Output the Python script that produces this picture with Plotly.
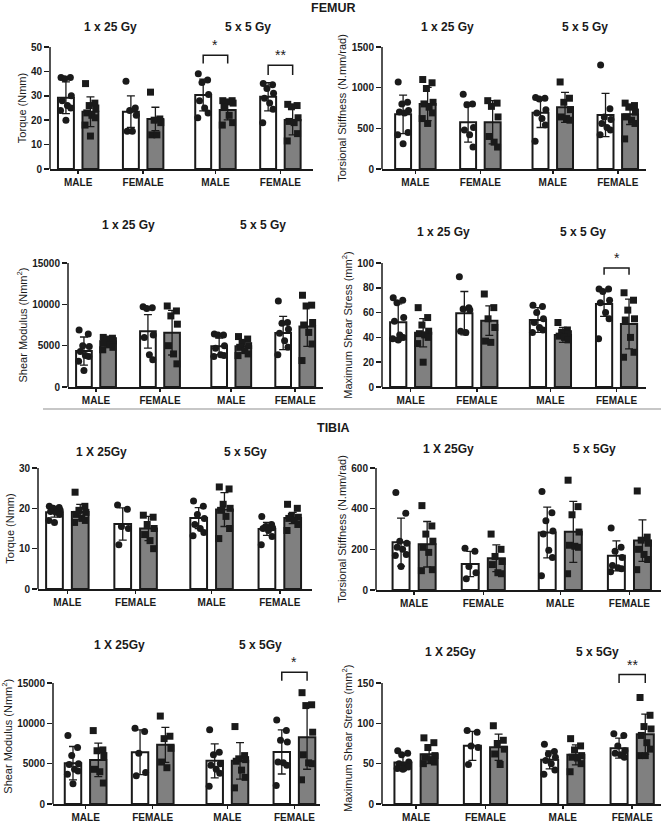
import plotly.graph_objects as go

W, H = 666, 821

GROUPS = ["MALE", "FEMALE", "MALE", "FEMALE"]
DOSES_FEMUR = ["1 x 25 Gy", "5 x 5 Gy"]
DOSES_TIBIA = ["1 X 25Gy", "5 x 5Gy"]
SECTIONS = ["FEMUR", "TIBIA"]

Y_TITLES = ["Torque (Nmm)", "Torsional Stiffness (N.mm/rad)",
            "Shear Modulus (Nmm<sup>2</sup>)", "Maximum Shear Stress (mm<sup>2</sup>)"]

# ---------------- FEMUR ----------------
A_MEAN = [29.2, 23.5, 23.5, 20.5, 30.3, 24.2, 29.6, 20.1]
A_SD = [6.5, 6.1, 6.5, 4.8, 6.5, 4.1, 5.8, 6.1]
A_PTS = [[37.5, 37.5, 37, 30, 28, 26, 25, 24, 20],
         [35, 27, 26, 25, 23, 22, 21, 18, 13.5],
         [36, 25, 24, 22, 15.5, 15.5],
         [31.5, 20.5, 20, 19, 14, 14],
         [39, 36.5, 35.5, 30.5, 28, 25, 23, 21],
         [28, 28, 27.5, 27, 25.5, 22, 19, 18],
         [35, 34.5, 33, 31, 29, 27, 24.5, 19],
         [26.5, 26, 25.5, 21, 19.5, 19, 14.5, 11.5]]

B_MEAN = [672, 799, 575, 575, 693, 758, 664, 672]
B_SD = [237, 204, 244, 265, 183, 184, 265, 125]
B_PTS = [[1070, 820, 800, 720, 700, 690, 450, 420, 310],
         [1100, 1060, 990, 820, 800, 760, 690, 620, 560],
         [920, 800, 790, 510, 480, 420, 270],
         [840, 810, 770, 640, 400, 330, 270],
         [880, 870, 860, 730, 690, 620, 540, 340],
         [1070, 870, 820, 730, 640, 620, 600],
         [1280, 740, 640, 610, 560, 510, 480, 420],
         [810, 780, 760, 700, 640, 600, 560, 370]]

C_MEAN = [4350, 5520, 6730, 6570, 4920, 4920, 6530, 7330]
C_SD = [1700, 530, 2020, 2700, 1000, 800, 2010, 2420]
C_PTS = [[6900, 6400, 5000, 4900, 4300, 3800, 3700, 3100, 2000],
         [6000, 5900, 5800, 5600, 5300, 5100, 4800, 4500],
         [9700, 9600, 9500, 6300, 6000, 3900, 3300],
         [9800, 9200, 8600, 7600, 5000, 4000, 2800],
         [6400, 6300, 6300, 5000, 4700, 3900, 3800, 3700],
         [6100, 5800, 5400, 5000, 4800, 4400, 4000, 3800],
         [10400, 7800, 7700, 7000, 6500, 5600, 4800, 3900],
         [11100, 9900, 9800, 7800, 7500, 6600, 5200, 3200]]

D_MEAN = [52.2, 43.8, 59.5, 53.5, 54, 42, 67, 50.8]
D_SD = [14.8, 11.4, 17.5, 11.9, 10, 6, 10, 20]
D_PTS = [[72, 70, 68, 56, 53, 42, 40, 39, 38],
         [64, 56, 50, 45, 43, 42, 40, 35, 20],
         [89, 64, 63, 62, 45, 44],
         [75, 64, 55, 48, 37, 36],
         [66, 65, 60, 55, 52, 48, 46, 44],
         [52, 46, 44, 43, 41, 40, 38],
         [79, 79, 77, 70, 68, 60, 55, 39],
         [76, 70, 62, 55, 54, 40, 28, 24]]

# ---------------- TIBIA ----------------
E_MEAN = [19, 19.1, 16.1, 15, 17.6, 19.7, 14.9, 17.6]
E_SD = [1.2, 1.9, 4, 3, 2.6, 4.2, 1.6, 1.4]
E_PTS = [[20.5, 20.2, 20, 19.5, 19.2, 19, 18.5, 17, 16.5],
         [24, 20.5, 19.5, 19, 18.5, 17.5, 17, 16.5],
         [20.8, 19.8, 15.5, 15, 11],
         [18.3, 17.8, 16, 15, 13.5, 12, 10],
         [21.8, 20.5, 18.5, 17.5, 16, 15, 14, 13.2],
         [25.3, 24.8, 21, 20, 19.5, 18, 15, 12.5],
         [18, 16, 15.5, 15.2, 15, 14.5, 13, 11],
         [21, 20, 18, 17.8, 17.5, 17, 16, 14.5]]

F_MEAN = [235, 225, 128, 156, 283, 286, 168, 243]
F_SD = [118, 112, 62, 66, 125, 150, 74, 102]
F_PTS = [[480, 378, 240, 230, 210, 200, 175, 170, 115],
         [415, 315, 275, 240, 210, 185, 100, 95],
         [205, 190, 115, 85, 55],
         [275, 200, 165, 140, 125, 85, 80],
         [485, 380, 340, 290, 275, 195, 160, 70],
         [540, 410, 370, 285, 220, 215, 210, 80],
         [305, 210, 190, 160, 120, 110, 105, 90],
         [487, 260, 245, 230, 200, 175, 150, 100]]

G_MEAN = [5060, 5470, 6420, 7330, 5350, 5350, 6460, 8290]
G_SD = [2070, 2070, 2780, 2160, 2110, 2270, 2740, 3980]
G_PTS = [[8500, 7000, 6000, 5000, 4900, 4300, 4100, 3700, 2500],
         [9100, 6700, 6600, 6000, 4300, 4000, 2600],
         [9400, 9000, 6300, 3900, 3500],
         [10900, 8400, 8100, 6900, 5200, 4500],
         [9200, 6400, 6100, 5000, 4800, 4300, 3800, 2200],
         [9600, 6000, 5600, 5500, 5300, 4200, 3300, 2000],
         [10400, 9100, 7900, 7700, 5200, 5100, 4800, 2300],
         [13800, 12300, 12200, 8900, 6100, 5100, 5000, 3000]]

H_MEAN = [51.4, 61.7, 72.1, 70.4, 54.7, 60.9, 69.2, 86.6]
H_SD = [10, 11.6, 17.9, 16.2, 11.2, 12.4, 12.4, 24.9]
H_PTS = [[66, 63, 61, 52, 50, 48, 46, 44, 43],
         [82, 76, 70, 60, 58, 55, 52, 50],
         [91, 89, 72, 70, 49],
         [97, 79, 75, 68, 62, 49],
         [74, 65, 62, 58, 54, 50, 42, 37],
         [81, 72, 67, 60, 58, 57, 50, 40],
         [87, 85, 72, 66, 63, 61, 58],
         [132, 110, 96, 93, 85, 76, 68, 60, 60]]

# significance: (bar_i, bar_j, label, bracket_y, tick_end_y)
A_SIG = [(4, 5, "*", 46.6, 43.2), (6, 7, "**", 42.5, 38.5)]
D_SIG = [(6, 7, "*", 96, 90.5)]
G_SIG = [(6, 7, "*", 16330, 15290)]
H_SIG = [(6, 7, "**", 160.4, 150)]

Y_TICKS = {
    "A": [0, 10, 20, 30, 40, 50], "B": [0, 500, 1000, 1500],
    "C": [0, 5000, 10000, 15000], "D": [0, 20, 40, 60, 80, 100],
    "E": [0, 10, 20, 30], "F": [0, 200, 400, 600],
    "G": [0, 5000, 10000, 15000], "H": [0, 50, 100, 150],
}

# ---------------- layout geometry (pixels) ----------------
BAR_X = [0, 1, 2.65, 3.65, 5.6, 6.6, 8.25, 9.25]
BAR_W = 0.65
JITTER = [-0.2, 0.18, -0.05, 0.22, -0.15, 0.06, 0.2, -0.22, 0.0]

PANELS = [
    # key, mean, sd, pts, sig, title, doses, left, right, y0px, ytoppx, xrange, ext, subtitle_y
    ("A", A_MEAN, A_SD, A_PTS, A_SIG, Y_TITLES[0], DOSES_FEMUR, 50, 313, 169, 47, [-0.65, 10.08], 50, 27),
    ("B", B_MEAN, B_SD, B_PTS, [], Y_TITLES[1], DOSES_FEMUR, 382, 646, 169, 47, [-0.86, 9.9], 1500, 27),
    ("C", C_MEAN, C_SD, C_PTS, [], Y_TITLES[2], DOSES_FEMUR, 68, 323, 387, 263, [-0.66, 9.9], 15000, 225),
    ("D", D_MEAN, D_SD, D_PTS, D_SIG, Y_TITLES[3], DOSES_FEMUR, 382, 646, 387, 263, [-0.65, 9.93], 100, 232),
    ("E", E_MEAN, E_SD, E_PTS, [], Y_TITLES[0], DOSES_TIBIA, 38, 312, 589, 468, [-0.64, 10.0], 30, 452),
    ("F", F_MEAN, F_SD, F_PTS, [], Y_TITLES[1], DOSES_TIBIA, 376, 661, 590, 468, [-0.96, 9.96], 600, 449),
    ("G", G_MEAN, G_SD, G_PTS, G_SIG, Y_TITLES[2], DOSES_TIBIA, 53, 320, 804, 683, [-0.79, 9.76], 16800, 645),
    ("H", H_MEAN, H_SD, H_PTS, H_SIG, Y_TITLES[3], DOSES_TIBIA, 382, 661, 804, 683, [-0.8, 9.85], 163, 652),
]

FONT = "Liberation Sans, Arial, sans-serif"
INK = "#1a1a1a"
GRAY = "#808080"

fig = go.Figure()
annotations = []
shapes = []
layout = {}

for n, (key, mean, sd, pts, sig, ytitle, doses, left, right, y0px, ytpx, xr, ext, suby) in enumerate(PANELS, start=1):
    top = Y_TICKS[key][-1]
    xa = "x" if n == 1 else f"x{n}"
    ya = "y" if n == 1 else f"y{n}"
    xname = "xaxis" if n == 1 else f"xaxis{n}"
    yname = "yaxis" if n == 1 else f"yaxis{n}"

    # bars
    for k, fill in ((0, "white"), (1, GRAY)):
        idx = list(range(k, 8, 2))
        fig.add_trace(go.Bar(
            x=[BAR_X[i] for i in idx], y=[mean[i] for i in idx], width=BAR_W,
            marker=dict(color=fill, line=dict(color=INK, width=2)),
            error_y=dict(type="data", array=[sd[i] for i in idx], visible=True,
                         color=INK, thickness=1.3, width=4),
            xaxis=xa, yaxis=ya, showlegend=False, hoverinfo="skip"))
    # points
    for k, sym in ((0, "circle"), (1, "square")):
        px, py = [], []
        for i in range(k, 8, 2):
            for j, v in enumerate(pts[i]):
                px.append(BAR_X[i] + JITTER[j % len(JITTER)])
                py.append(v)
        fig.add_trace(go.Scatter(
            x=px, y=py, mode="markers",
            marker=dict(symbol=sym, size=7, color=INK),
            xaxis=xa, yaxis=ya, showlegend=False, hoverinfo="skip", cliponaxis=False))
    # significance brackets
    for (i, j, lab, by, ty) in sig:
        fig.add_trace(go.Scatter(
            x=[BAR_X[i], BAR_X[i], BAR_X[j], BAR_X[j]], y=[ty, by, by, ty],
            mode="lines", line=dict(color=INK, width=1.5),
            xaxis=xa, yaxis=ya, showlegend=False, hoverinfo="skip"))
        annotations.append(dict(
            x=(BAR_X[i] + BAR_X[j]) / 2, y=by, xref=xa, yref=ya, text=lab,
            showarrow=False, yanchor="bottom", yshift=0,
            font=dict(family=FONT, size=14, color=INK)))

    # domains
    dom_top_px = y0px - (ext / top) * (y0px - ytpx)
    layout[xname] = dict(
        domain=[left / W, right / W], range=xr, anchor=ya,
        showline=True, linecolor=INK, linewidth=1.5, showgrid=False, zeroline=False,
        tickmode="array", tickvals=[(BAR_X[2 * g] + BAR_X[2 * g + 1]) / 2 for g in range(4)],
        ticktext=GROUPS, ticks="outside", ticklen=3, tickwidth=1.5, tickcolor=INK,
        tickfont=dict(family=FONT, size=10, color=INK, weight="bold"), fixedrange=True)
    layout[yname] = dict(
        domain=[1 - y0px / H, 1 - dom_top_px / H], range=[0, ext], anchor=xa,
        showline=False, showgrid=False, zeroline=False,
        tickmode="array", tickvals=Y_TICKS[key], tickformat="d",
        ticks="outside", ticklen=5, tickwidth=1.5, tickcolor=INK,
        tickfont=dict(family=FONT, size=10, color=INK, weight="bold"),
        title=dict(text=ytitle, font=dict(family=FONT, size=11, color=INK), standoff=2),
        fixedrange=True)
    # y axis line up to top tick only
    shapes.append(dict(type="line", xref=f"{xa} domain", yref=ya, x0=0, x1=0, y0=0, y1=top,
                       line=dict(color=INK, width=1.5), layer="above"))
    # dose subtitles
    for g, lab in enumerate(doses):
        cx = (BAR_X[4 * g] + BAR_X[4 * g + 3]) / 2
        annotations.append(dict(x=cx, y=1 - suby / H, xref=xa, yref="paper", text=lab,
                                showarrow=False, yanchor="middle",
                                font=dict(family=FONT, size=12, color=INK, weight="bold")))

# section headings
annotations.append(dict(x=333 / W, y=1 - 7.5 / H, xref="paper", yref="paper", text=SECTIONS[0],
                        showarrow=False, yanchor="middle",
                        font=dict(family=FONT, size=12.5, color=INK, weight="bold")))
annotations.append(dict(x=333 / W, y=1 - 428 / H, xref="paper", yref="paper", text=SECTIONS[1],
                        showarrow=False, yanchor="middle",
                        font=dict(family=FONT, size=12.5, color=INK, weight="bold")))
# separator
shapes.append(dict(type="line", xref="paper", yref="paper", x0=43 / W, x1=661 / W,
                   y0=1 - 409 / H, y1=1 - 409 / H, line=dict(color="#b5b5b5", width=1.5)))

fig.update_layout(
    width=W, height=H, margin=dict(l=0, r=0, t=0, b=0, autoexpand=False),
    paper_bgcolor="white", plot_bgcolor="white", barmode="overlay",
    annotations=annotations, shapes=shapes, showlegend=False,
    font=dict(family=FONT, color=INK), **layout)

fig.write_html("out.html", config={"displayModeBar": False, "staticPlot": True},
               post_script="document.body.style.margin='0';document.body.style.padding='0';document.body.style.overflow='hidden';")
